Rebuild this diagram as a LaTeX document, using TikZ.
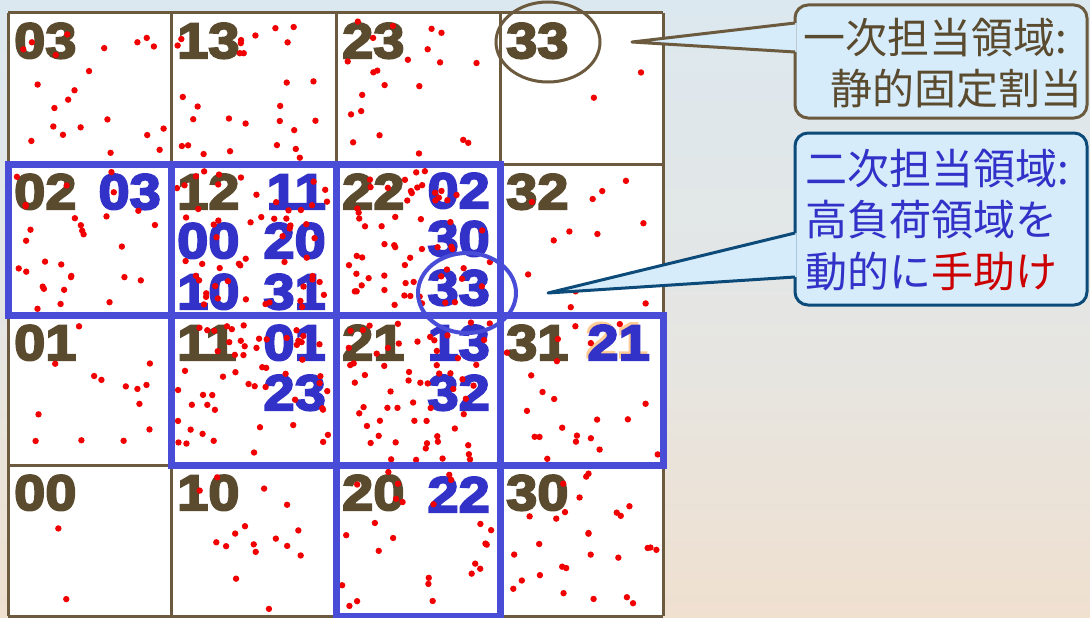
\documentclass[tikz,border=0pt]{standalone}
\usepackage{fontspec}
\usetikzlibrary{shapes.geometric}
\newfontfamily\labfont[BoldFeatures={FakeBold=4,FakeStretch=1.12}]{Liberation Sans}
\newfontfamily\cjk{Noto Sans CJK JP}
\definecolor{brn}{RGB}{107,90,62}
\definecolor{brntxt}{RGB}{90,74,46}
\definecolor{tblue}{RGB}{50,50,200}
\definecolor{rblue}{RGB}{72,76,214}
\definecolor{cfill}{RGB}{214,236,250}
\definecolor{cnavy}{RGB}{12,74,122}
\definecolor{peach}{RGB}{255,204,150}
\definecolor{dotred}{RGB}{240,0,0}
\definecolor{hred}{RGB}{204,0,0}
\definecolor{bgtop}{RGB}{220,232,239}
\definecolor{bgmid}{RGB}{229,230,228}
\definecolor{bgbot}{RGB}{239,224,208}
\newcommand\mydots[3]{%
  \foreach \i in {1,...,#3}{%
    \pgfmathsetmacro\dx{#1+6+rnd*152}%
    \pgfmathsetmacro\dy{#2+6+rnd*139}%
    \fill[dotred] (\dx,\dy) circle (3.2pt);
  }}
\tikzset{
  lab/.style={font=\labfont\bfseries\fontsize{50}{50}\selectfont, inner sep=0pt},
  labw/.style={lab, anchor=base west, text=brntxt},
  labb/.style={lab, anchor=base east, text=tblue},
  labbw/.style={lab, anchor=base west, text=tblue},
  ctext/.style={font=\cjk\fontsize{42}{42}\selectfont, inner sep=0pt, anchor=base west},
  gridline/.style={draw=brn, line width=3pt},
  bluebox/.style={draw=rblue, line width=7pt},
}
\begin{document}
\begin{tikzpicture}[x=1pt,y=-1pt]
\useasboundingbox (0,0) rectangle (1090,618);
\shade[top color=bgtop, bottom color=bgbot, middle color=bgmid] (0,0) rectangle (1090,618);
% grid
\fill[white] (8,13) rectangle (663,616);
\foreach \xx in {8,171,336,500,663} \draw[gridline] (\xx,13) -- (\xx,616);
\foreach \yy in {13,164,315,465,616} \draw[gridline] (8,\yy) -- (663,\yy);
% labels row 3
\node[labw] (l03) at (14,58) {03};
\node[labw] (l13) at (177,58) {13};
\node[labw] (l23) at (342,58) {23};
\node[labw] (l33) at (506,58) {33};
% row 2
\node[labw] (l02) at (14,209) {02};
\node[labb] (b02a) at (161,209) {03};
\node[labw] (l12) at (177,209) {12};
\node[labb] (b12a) at (326,209) {11};
\node[labbw] (b12b) at (177,258) {00};
\node[labb] (b12c) at (326,258) {20};
\node[labbw] (b12d) at (177,309) {10};
\node[labb] (b12e) at (326,309) {31};
\node[labw] (l22) at (342,209) {22};
\node[labb] (b22a) at (490,208) {02};
\node[labb] (b22b) at (490,256) {30};
\node[labb] (b22c) at (490,305) {33};
\node[labw] (l32) at (506,209) {32};
% row 1
\node[labw] (l01) at (14,360) {01};
\node[labw] (l11) at (177,360) {11};
\node[labb] (b11a) at (326,360) {01};
\node[labb] (b11b) at (326,410) {23};
\node[labw] (l21) at (342,360) {21};
\node[labb] (b21a) at (490,360) {13};
\node[labb] (b21b) at (490,410) {32};
\node[labw] (l31) at (506,360) {31};
\node[lab, anchor=base east, text=peach] (s31) at (648,357.5) {21};
\node[labb] (b31a) at (650,360) {21};
% row 0
\node[labw] (l00) at (14,510) {00};
\node[labw] (l10) at (177,510) {10};
\node[labw] (l20) at (342,510) {20};
\node[labb] (b20a) at (490,512) {22};
\node[labw] (l30) at (506,510) {30};
% dots
\pgfmathsetseed{7}
\mydots{8}{13}{22}
\mydots{171}{13}{28}
\mydots{336}{13}{22}
\mydots{500}{13}{2}
\mydots{8}{164}{30}
\mydots{171}{164}{55}
\mydots{336}{164}{60}
\mydots{500}{164}{12}
\mydots{8}{315}{14}
\mydots{171}{315}{55}
\mydots{336}{315}{60}
\mydots{500}{315}{22}
\mydots{8}{465}{2}
\mydots{171}{465}{16}
\mydots{336}{465}{25}
\mydots{500}{465}{28}
% blue boxes
\draw[bluebox] (8,164) rectangle (171,315);
\draw[bluebox] (171,164) rectangle (336,315);
\draw[bluebox] (336,164) rectangle (500,315);
\draw[bluebox] (171,315) rectangle (336,465);
\draw[bluebox] (336,315) rectangle (500,465);
\draw[bluebox] (500,315) rectangle (663,465);
\draw[bluebox] (336,465) rectangle (500,616);
% ellipses
\node[draw=brn, line width=3pt, ellipse, minimum width=104pt, minimum height=80pt, inner sep=0pt] (e1) at (548,42) {};
\node[draw=rblue, line width=4pt, ellipse, minimum width=98pt, minimum height=80pt, inner sep=0pt] (e2) at (467,293) {};
% callout 1
\node[draw=brn, fill=cfill, line width=3pt, rounded corners=13pt, minimum width=292pt, minimum height=113pt, inner sep=0pt] (c1) at (941,61.5) {};
\coordinate (t1) at (632,42);
\fill[cfill] (796.5,23) -- (t1) -- (796.5,52) -- cycle;
\draw[brn, line width=3pt, line join=round] (795,23) -- (t1) -- (795,52);
\node[ctext, text=brntxt] (c1a) at (803,54) {一次担当領域:};
\node[ctext, text=brntxt] (c1b) at (830,104) {静的固定割当};
% callout 2
\node[draw=cnavy, fill=cfill, line width=3pt, rounded corners=13pt, minimum width=292pt, minimum height=172pt, inner sep=0pt] (c2) at (941,219) {};
\coordinate (t2) at (548,293);
\fill[cfill] (796.5,233) -- (t2) -- (796.5,277) -- cycle;
\draw[cnavy, line width=3pt, line join=round] (795,233) -- (t2) -- (795,277);
\node[ctext, text=tblue] (c2a) at (805,184) {二次担当領域:};
\node[ctext, text=tblue] (c2b) at (805,235) {高負荷領域を};
\node[ctext, text=tblue] (c2c) at (805,287) {動的に\textcolor{hred}{手助け}};
\end{tikzpicture}
\end{document}
